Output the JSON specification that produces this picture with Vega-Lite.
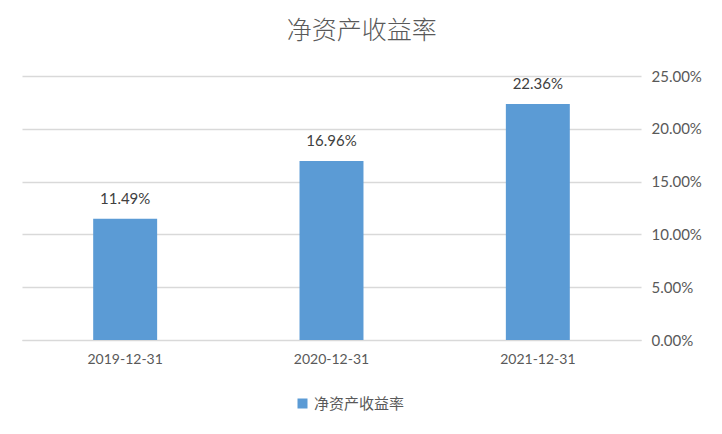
{
  "$schema": "https://vega.github.io/schema/vega-lite/v6.json",
  "autosize": "none",
  "width": 619,
  "height": 264,
  "padding": {"left": 22, "top": 76, "right": 81, "bottom": 94},
  "background": "white",
  "title": {
    "text": "净资产收益率",
    "font": "Noto Sans CJK SC",
    "fontSize": 25,
    "fontWeight": 300,
    "color": "#595959",
    "anchor": "middle",
    "frame": "bounds",
    "offset": 25
  },
  "data": {
    "values": [
      {"date": "2019-12-31", "series": "净资产收益率", "roe": 0.1149},
      {"date": "2020-12-31", "series": "净资产收益率", "roe": 0.1696},
      {"date": "2021-12-31", "series": "净资产收益率", "roe": 0.2236}
    ]
  },
  "encoding": {
    "x": {
      "field": "date",
      "type": "nominal",
      "title": null,
      "scale": {"paddingInner": 0.69, "paddingOuter": 0.345},
      "axis": {
        "labelAngle": 0,
        "labelFont": "Lato",
        "labelFontSize": 14,
        "labelColor": "#595959",
        "labelPadding": 12,
        "ticks": false,
        "domainColor": "#D9D9D9"
      }
    },
    "y": {
      "field": "roe",
      "type": "quantitative",
      "title": null,
      "scale": {"domain": [0, 0.25]},
      "axis": {
        "orient": "right",
        "values": [0, 0.05, 0.1, 0.15, 0.2, 0.25],
        "format": ".2%",
        "labelFont": "Lato",
        "labelFontSize": 15,
        "labelColor": "#595959",
        "labelPadding": 10,
        "ticks": false,
        "domain": false,
        "gridColor": "#D9D9D9",
        "gridWidth": 1.3,
        "labelAlign": "left",
        "labelBaseline": "middle"
      }
    }
  },
  "layer": [
    {
      "mark": {"type": "bar", "color": "#5B9BD5"},
      "encoding": {
        "color": {
          "field": "series",
          "type": "nominal",
          "scale": {"range": ["#5B9BD5"]},
          "legend": {
            "title": null,
            "orient": "none",
            "legendX": 273,
            "legendY": 320,
            "direction": "horizontal",
            "symbolType": "square",
            "symbolSize": 100,
            "labelFont": "Noto Sans CJK SC",
            "labelFontSize": 15,
            "labelColor": "#595959"
          }
        }
      }
    },
    {
      "mark": {
        "type": "text",
        "dy": -20,
        "font": "Lato",
        "fontSize": 15,
        "color": "#404040"
      },
      "encoding": {
        "text": {"field": "roe", "type": "quantitative", "format": ".2%"}
      }
    }
  ],
  "config": {
    "view": {"stroke": null}
  }
}
